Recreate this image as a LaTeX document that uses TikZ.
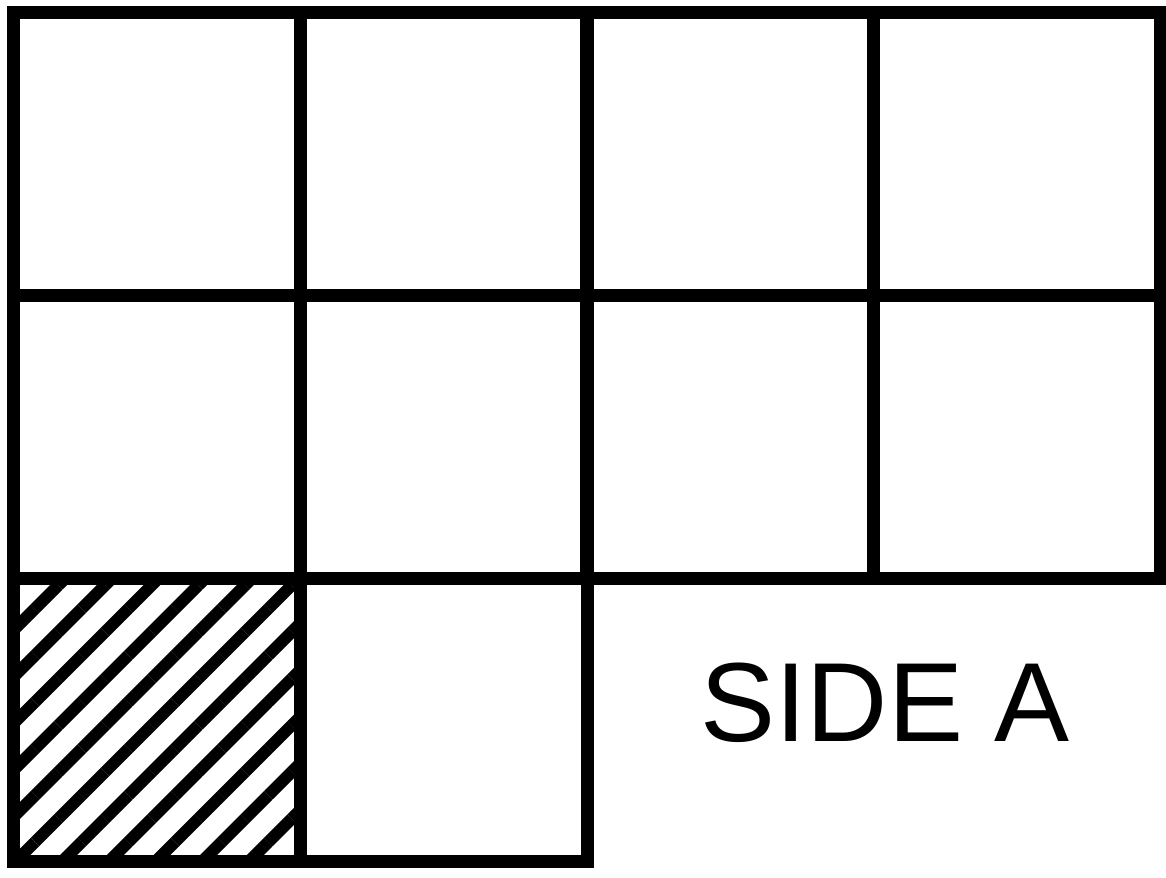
\documentclass[tikz,border=0pt]{standalone}
\usepackage{fontspec}
\usepackage{tikz}
\usetikzlibrary{patterns.meta}
\setmainfont{Liberation Sans}

\begin{document}
\begin{tikzpicture}[
  cell/.style={draw, line width=0.13cm, minimum width=2.865cm, minimum height=2.833cm,
               inner sep=0pt},
  hatched/.style={cell, pattern={Lines[angle=45, distance=0.33cm, line width=0.12cm]}},
  sidelabel/.style={font=\fontsize{32}{36}\selectfont, inner sep=0pt}
]
  \useasboundingbox (0,0) rectangle (11.66,-8.77);
  % Top row
  \node[cell] (c11) at (1.57,-1.54) {};
  \node[cell] (c12) at (4.44,-1.54) {};
  \node[cell] (c13) at (7.30,-1.54) {};
  \node[cell] (c14) at (10.17,-1.54) {};
  % Middle row
  \node[cell] (c21) at (1.57,-4.37) {};
  \node[cell] (c22) at (4.44,-4.37) {};
  \node[cell] (c23) at (7.30,-4.37) {};
  \node[cell] (c24) at (10.17,-4.37) {};
  % Bottom row
  \node[hatched] (c31) at (1.57,-7.20) {};
  \node[cell]    (c32) at (4.44,-7.20) {};
  % Label
  \node[sidelabel] (side) at (8.85,-7.03) {SIDE A};
\end{tikzpicture}
\end{document}
